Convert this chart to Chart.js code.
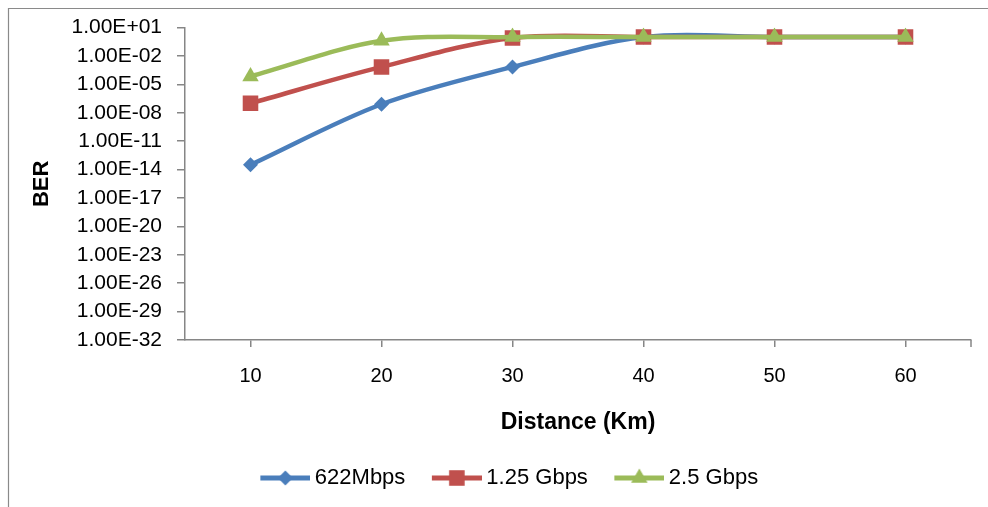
<!DOCTYPE html>
<html><head><meta charset="utf-8">
<script src="https://cdn.jsdelivr.net/npm/chart.js@4.4.1/dist/chart.umd.min.js"></script>
<style>html,body{margin:0;padding:0;background:#fff;overflow:hidden;}</style>
</head><body>
<canvas id="c" width="988" height="507"></canvas>
<script>
const distances = ['10', '20', '30', '40', '50', '60'];
const ber622Mbps = [3.2e-14, 8e-8, 7e-4, 1, 1, 1];
const ber125Gbps = [1e-7, 7e-4, 0.8, 1, 1, 1];
const ber25Gbps = [7e-5, 0.4, 1, 1, 1, 1];
const seriesNames = ['622Mbps', '1.25 Gbps', '2.5 Gbps'];
const yTickValues = [1e1, 1e-2, 1e-5, 1e-8, 1e-11, 1e-14, 1e-17, 1e-20, 1e-23, 1e-26, 1e-29, 1e-32];
const yTickLabels = ['1.00E+01', '1.00E-02', '1.00E-05', '1.00E-08', '1.00E-11', '1.00E-14',
                     '1.00E-17', '1.00E-20', '1.00E-23', '1.00E-26', '1.00E-29', '1.00E-32'];
const xTitle = 'Distance (Km)';
const yTitle = 'BER';

const FONT = "'Liberation Sans', Arial, sans-serif";
const AXIS = '#868686';
const colors = ['#4A7EBB', '#C0504D', '#9BBB59'];
const styles = ['rectRot', 'rect', 'triangle'];
const radii = [7.5, 11, 9.5];

function drawMarker(ctx, shape, x, y, r) {
  ctx.beginPath();
  if (shape === 'rectRot') {
    ctx.moveTo(x, y - r); ctx.lineTo(x + r, y); ctx.lineTo(x, y + r); ctx.lineTo(x - r, y);
  } else if (shape === 'rect') {
    const s = r * Math.SQRT1_2;
    ctx.rect(x - s, y - s, 2 * s, 2 * s);
  } else {
    const h = r * 1.5, w = r * Math.sqrt(3) / 2;
    ctx.moveTo(x, y - r); ctx.lineTo(x + w, y + r / 2); ctx.lineTo(x - w, y + r / 2);
  }
  ctx.closePath();
  ctx.fill();
}
function legendIcon(color, shape, r) {
  const cv = document.createElement('canvas');
  cv.width = 56; cv.height = 24;
  const ctx = cv.getContext('2d');
  ctx.strokeStyle = color; ctx.fillStyle = color; ctx.lineWidth = 5;
  ctx.beginPath(); ctx.moveTo(6, 12); ctx.lineTo(56, 12); ctx.stroke();
  drawMarker(ctx, shape, 31, 12, r);
  return cv;
}
const icons = colors.map((c, i) => legendIcon(c, styles[i], radii[i]));

const seriesData = [ber622Mbps, ber125Gbps, ber25Gbps];
const datasets = seriesData.map((d, i) => ({
  label: seriesNames[i],
  data: d,
  borderColor: colors[i],
  backgroundColor: colors[i],
  borderWidth: 4.5,
  pointStyle: styles[i],
  pointRadius: radii[i],
  pointHoverRadius: radii[i],
  pointBorderWidth: 0,
  pointBackgroundColor: colors[i],
  tension: 0.33,
  order: 2 - i
}));

const frame = {
  id: 'frame',
  beforeDraw(chart) {
    const ctx = chart.ctx;
    ctx.save();
    ctx.fillStyle = '#fff';
    ctx.fillRect(0, 0, chart.width, chart.height);
    ctx.strokeStyle = '#8a8a8a'; ctx.lineWidth = 1.2;
    ctx.beginPath();
    ctx.moveTo(8.5, chart.height); ctx.lineTo(8.5, 8.5); ctx.lineTo(chart.width, 8.5);
    ctx.stroke();
    ctx.restore();
  },
  afterDraw(chart) {
    const a = chart.chartArea, ctx = chart.ctx;
    ctx.save();
    ctx.strokeStyle = AXIS; ctx.lineWidth = 1.5;
    ctx.beginPath(); ctx.moveTo(a.right, a.bottom); ctx.lineTo(a.right, a.bottom + 7); ctx.stroke();
    ctx.restore();
  }
};

new Chart(document.getElementById('c'), {
  type: 'line',
  data: { labels: distances, datasets },
  plugins: [frame],
  options: {
    responsive: false,
    devicePixelRatio: 1,
    animation: false,
    events: [],
    layout: { padding: { left: 48, right: 17, top: 27, bottom: 8 } },
    plugins: {
      tooltip: { enabled: false },
      legend: {
        position: 'bottom',
        labels: {
          usePointStyle: true,
          pointStyleWidth: 43,
          padding: 27,
          color: '#000',
          font: { family: FONT, size: 22 },
          generateLabels: (chart) => chart.data.datasets.map((ds, i) => ({
            text: ds.label,
            pointStyle: icons[i],
            fillStyle: ds.borderColor,
            strokeStyle: ds.borderColor,
            lineWidth: 0,
            fontColor: '#000',
            hidden: false,
            datasetIndex: i
          }))
        }
      }
    },
    scales: {
      x: {
        type: 'category',
        offset: true,
        afterFit: (s) => { s.height = 100; },
        grid: { display: true, drawOnChartArea: false, offset: false, drawTicks: true, tickLength: 7, color: AXIS, lineWidth: 1.5 },
        border: { display: true, color: AXIS, width: 1.5 },
        ticks: { color: '#000', padding: 17, font: { family: FONT, size: 20 }, maxRotation: 0 },
        title: { display: true, text: xTitle, color: '#000', font: { family: FONT, size: 23, weight: 'bold' }, padding: { top: 0, bottom: 4 } }
      },
      y: {
        type: 'logarithmic',
        min: 1e-32,
        max: 10,
        afterFit: (s) => { s.width = 137; },
        afterBuildTicks: (s) => { s.ticks = yTickValues.map(v => ({ value: v })); },
        grid: { display: true, drawOnChartArea: false, drawTicks: true, tickLength: 8, color: AXIS, lineWidth: 1.5 },
        border: { display: true, color: AXIS, width: 1.5 },
        ticks: {
          color: '#000', padding: 15, font: { family: FONT, size: 21 },
          callback: (v, i) => yTickLabels[i]
        },
        title: { display: true, text: yTitle, color: '#000', font: { family: FONT, size: 22, weight: 'bold' }, padding: { top: -19, bottom: 0 } }
      }
    }
  }
});
</script>
</body></html>
